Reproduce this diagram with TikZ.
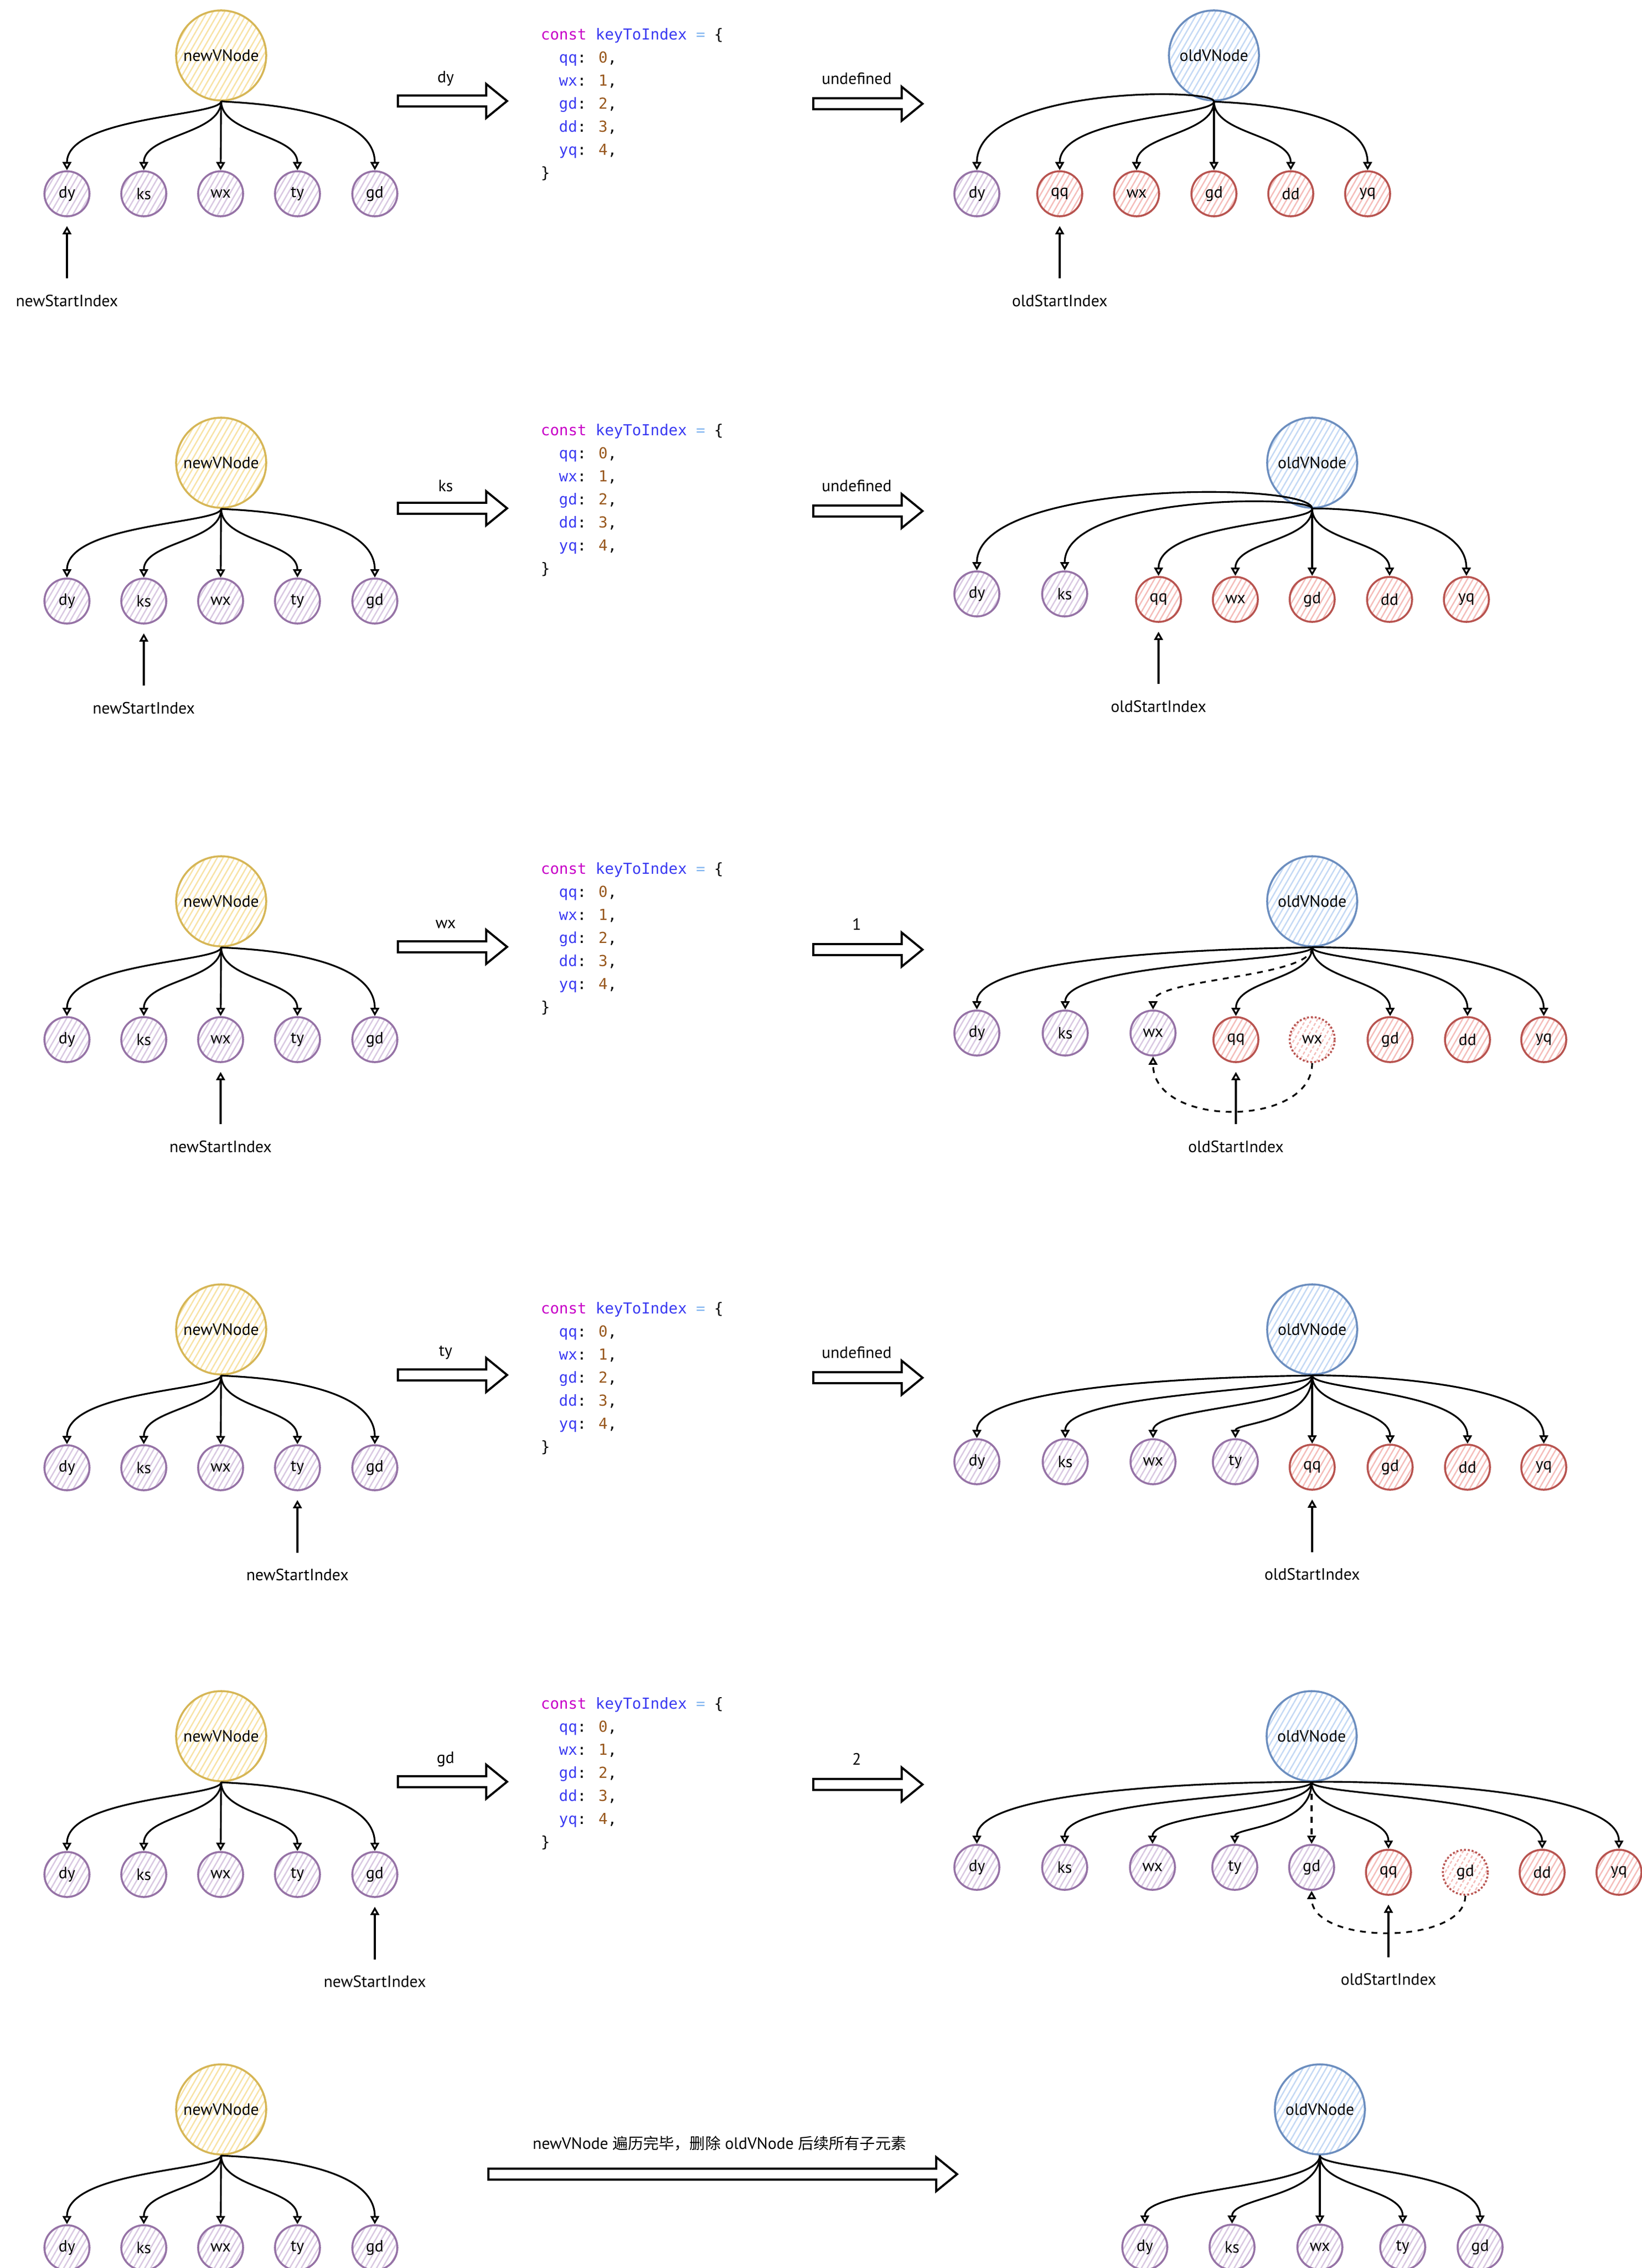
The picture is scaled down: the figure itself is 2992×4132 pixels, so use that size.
\documentclass[tikz,border=0pt]{standalone}
\usepackage{fontspec}
\setmainfont{PT Sans}
\newfontfamily\codefont{DejaVu Sans Mono}
\newfontfamily\cjkfont{Noto Sans CJK SC}
\usetikzlibrary{arrows.meta,patterns.meta,calc}
\definecolor{purS}{HTML}{9673A6}
\definecolor{purH}{HTML}{D9C8E2}
\definecolor{redS}{HTML}{B85450}
\definecolor{redH}{HTML}{F5BDBA}
\definecolor{bluS}{HTML}{6C8EBF}
\definecolor{bluH}{HTML}{C4D9F5}
\definecolor{yelS}{HTML}{D6B656}
\definecolor{yelH}{HTML}{F8E3A6}
\definecolor{ckw}{HTML}{C800C8}
\definecolor{cid}{HTML}{3A3AF2}
\definecolor{ceq}{HTML}{80B4F0}
\definecolor{cnum}{HTML}{98571B}

\newcommand\tedge[4][]{%
  \coordinate (tmpc) at ($(#2.center)+(0,#4)$);
  \draw[tlink,#1] (#2.south) .. controls (#2.south |- tmpc) and (#3.north |- tmpc) .. (#3.north);}

\newcommand\lefttree[2]{%
  \node[yroot] (#1r) at (403,#2) {newVNode};
  \node[pk] (#1a) at (122,#2+252) {dy};
  \node[pk] (#1b) at (262,#2+252) {ks};
  \node[pk] (#1c) at (402,#2+252) {wx};
  \node[pk] (#1d) at (542,#2+252) {ty};
  \node[pk] (#1e) at (683,#2+252) {gd};
  \tedge{#1r}{#1a}{111}
  \tedge{#1r}{#1b}{144}
  \draw[tlink] (#1r.south) -- (#1c.north);
  \tedge{#1r}{#1d}{144}
  \tedge{#1r}{#1e}{86}}

\newcommand\codeblock[2]{%
  \node[codeln] (#1k0) at (985,#2+10) {\textcolor{ckw}{const} \textcolor{cid}{keyToIndex} \textcolor{ceq}{=} \{};
  \node[codeln] (#1k1) at (1018,#2+52) {\textcolor{cid}{qq}: \textcolor{cnum}{0},};
  \node[codeln] (#1k2) at (1018,#2+94) {\textcolor{cid}{wx}: \textcolor{cnum}{1},};
  \node[codeln] (#1k3) at (1018,#2+136) {\textcolor{cid}{gd}: \textcolor{cnum}{2},};
  \node[codeln] (#1k4) at (1018,#2+178) {\textcolor{cid}{dd}: \textcolor{cnum}{3},};
  \node[codeln] (#1k5) at (1018,#2+220) {\textcolor{cid}{yq}: \textcolor{cnum}{4},};
  \node[codeln] (#1k6) at (985,#2+262) {\}};}

\newcommand\bigarrow[3]{%
  \draw[bigarr] (#1,#3-10) -- (#2-38,#3-10) -- (#2-38,#3-31) -- (#2,#3) -- (#2-38,#3+31) -- (#2-38,#3+10) -- (#1,#3+10) -- cycle;}

\newcommand\rowarrows[4]{%
  \bigarrow{725}{924}{#1+83}
  \node[lbl] (#4la) at (812,#1+42) {#2};
  \bigarrow{1482}{1681}{#1+88}
  \node[lbl] (#4ra) at (1561,#1+42) {#3};}

\newcommand\ptrto[3]{%
  \node[lbl] (#2) at ($(#1.center)+(0,195)$) {#3};
  \draw[ptr] (#2.north) -- (#1.south);}

\begin{document}
\begin{tikzpicture}[x=0.01cm,y=-0.01cm,
  lbl/.style={inner sep=0pt, font=\fontsize{8.5}{10}\selectfont},
  rootn/.style={circle, minimum size=1.64cm, inner sep=0pt, line width=1pt, font=\fontsize{8.5}{10}\selectfont},
  yroot/.style={rootn, draw=yelS, pattern={Lines[angle=60,distance=2.6pt,line width=0.7pt]}, pattern color=yelH},
  broot/.style={rootn, draw=bluS, pattern={Lines[angle=60,distance=2.6pt,line width=0.7pt]}, pattern color=bluH},
  kid/.style={circle, minimum size=0.82cm, inner sep=0pt, line width=1pt, font=\fontsize{8.5}{10}\selectfont},
  pk/.style={kid, draw=purS, pattern={Lines[angle=60,distance=2.6pt,line width=0.7pt]}, pattern color=purH},
  rk/.style={kid, draw=redS, pattern={Lines[angle=60,distance=2.6pt,line width=0.7pt]}, pattern color=redH},
  rkd/.style={rk, densely dotted},
  tlink/.style={line width=0.9pt, -{Triangle[open,length=0.15cm,width=0.16cm]}},
  ptr/.style={line width=0.9pt, -{Triangle[open,length=0.15cm,width=0.16cm]}, shorten <=0.29cm, shorten >=0.16cm},
  bigarr/.style={draw, fill=white, line width=1.1pt, line join=miter},
  codeln/.style={anchor=base west, inner sep=0pt, font=\codefont\fontsize{7.85}{9}\selectfont}]
\useasboundingbox (0,0) rectangle (2992,4132);
\clip (0,0) rectangle (2992,4132);
\fill[white] (0,0) rectangle (2992,4132);

% ---------------- Row 1 ----------------
\lefttree{La}{101}
\ptrto{Laa}{La-ns}{newStartIndex}
\codeblock{Ka}{62}
\rowarrows{101}{dy}{undefined}{Ra}
\node[broot] (Ar) at (2212,101) {oldVNode};
\node[pk] (Aa) at (1780,353) {dy};
\node[rk] (Ab) at (1931,353) {qq};
\node[rk] (Ac) at (2071,353) {wx};
\node[rk] (Ad) at (2212,353) {gd};
\node[rk] (Ae) at (2352,353) {dd};
\node[rk] (Af) at (2492,353) {yq};
\tedge{Ar}{Aa}{58}
\tedge{Ar}{Ab}{111}
\tedge{Ar}{Ac}{144}
\draw[tlink] (Ar.south) -- (Ad.north);
\tedge{Ar}{Ae}{144}
\tedge{Ar}{Af}{86}
\ptrto{Ab}{A-os}{oldStartIndex}

% ---------------- Row 2 ----------------
\lefttree{Lb}{843}
\ptrto{Lbb}{Lb-ns}{newStartIndex}
\codeblock{Kb}{783}
\rowarrows{843}{ks}{undefined}{Rb}
\node[broot] (Br) at (2391,843) {oldVNode};
\node[pk] (Ba) at (1780,1082) {dy};
\node[pk] (Bb) at (1940,1082) {ks};
\node[rk] (Bc) at (2111,1092) {qq};
\node[rk] (Bd) at (2251,1092) {wx};
\node[rk] (Be) at (2391,1092) {gd};
\node[rk] (Bf) at (2532,1092) {dd};
\node[rk] (Bg) at (2672,1092) {yq};
\tedge{Br}{Ba}{33}
\tedge{Br}{Bb}{58}
\tedge{Br}{Bc}{110}
\tedge{Br}{Bd}{143}
\draw[tlink] (Br.south) -- (Be.north);
\tedge{Br}{Bf}{143}
\tedge{Br}{Bg}{82}
\ptrto{Bc}{B-os}{oldStartIndex}

% ---------------- Row 3 ----------------
\lefttree{Lc}{1642}
\ptrto{Lcc}{Lc-ns}{newStartIndex}
\codeblock{Kc}{1582}
\rowarrows{1642}{wx}{1}{Rc}
\node[broot] (Cr) at (2391,1642) {oldVNode};
\node[pk] (Ca) at (1780,1882) {dy};
\node[pk] (Cb) at (1941,1882) {ks};
\node[pk] (Cc) at (2101,1882) {wx};
\node[rk] (Cd) at (2252,1894) {qq};
\node[rkd] (Ce) at (2391,1894) {wx};
\node[rk] (Cf) at (2533,1894) {gd};
\node[rk] (Cg) at (2674,1894) {dd};
\node[rk] (Ch) at (2813,1894) {yq};
\tedge{Cr}{Ca}{85}
\tedge{Cr}{Cb}{110}
\tedge[dashed]{Cr}{Cc}{140}
\tedge{Cr}{Cd}{143}
\tedge{Cr}{Cf}{143}
\tedge{Cr}{Cg}{108}
\tedge{Cr}{Ch}{83}
\draw[tlink,dashed] (Ce.south) .. controls (Ce.south |- 0,2055) and (Cc.south |- 0,2055) .. (Cc.south);
\ptrto{Cd}{C-os}{oldStartIndex}

% ---------------- Row 4 ----------------
\lefttree{Ld}{2422}
\ptrto{Ldd}{Ld-ns}{newStartIndex}
\codeblock{Kd}{2383}
\rowarrows{2422}{ty}{undefined}{Rd}
\node[broot] (Dr) at (2391,2422) {oldVNode};
\node[pk] (Da) at (1780,2663) {dy};
\node[pk] (Db) at (1941,2663) {ks};
\node[pk] (Dc) at (2101,2663) {wx};
\node[pk] (Dd) at (2251,2663) {ty};
\node[rk] (De) at (2391,2673) {qq};
\node[rk] (Df) at (2533,2673) {gd};
\node[rk] (Dg) at (2674,2673) {dd};
\node[rk] (Dh) at (2813,2673) {yq};
\tedge{Dr}{Da}{85}
\tedge{Dr}{Db}{113}
\tedge{Dr}{Dc}{141}
\tedge{Dr}{Dd}{170}
\draw[tlink] (Dr.south) -- (De.north);
\tedge{Dr}{Df}{144}
\tedge{Dr}{Dg}{111}
\tedge{Dr}{Dh}{83}
\ptrto{De}{D-os}{oldStartIndex}

% ---------------- Row 5 ----------------
\lefttree{Le}{3163}
\ptrto{Lee}{Le-ns}{newStartIndex}
\codeblock{Ke}{3103}
\rowarrows{3163}{gd}{2}{Re}
\node[broot] (Er) at (2390,3163) {oldVNode};
\node[pk] (Ea) at (1780,3402) {dy};
\node[pk] (Eb) at (1940,3402) {ks};
\node[pk] (Ec) at (2100,3402) {wx};
\node[pk] (Ed) at (2250,3402) {ty};
\node[pk] (Ee) at (2390,3402) {gd};
\node[rk] (Ef) at (2530,3411) {qq};
\node[rkd] (Eg) at (2670,3411) {gd};
\node[rk] (Eh) at (2810,3411) {dd};
\node[rk] (Ei) at (2950,3411) {yq};
\tedge{Er}{Ea}{82}
\tedge{Er}{Eb}{110}
\tedge{Er}{Ec}{138}
\tedge{Er}{Ed}{166}
\draw[tlink,dashed] (Er.south) -- (Ee.north);
\tedge{Er}{Ef}{142}
\tedge{Er}{Eh}{109}
\tedge{Er}{Ei}{81}
\draw[tlink,dashed] (Eg.south) .. controls (Eg.south |- 0,3544) and (Ee.south |- 0,3544) .. (Ee.south);
\ptrto{Ef}{E-os}{oldStartIndex}

% ---------------- Row 6 ----------------
\lefttree{Lf}{3843}
\bigarrow{890}{1744}{3961}
\node[lbl] (Rf-la) at (1311,3905) {newVNode {\cjkfont\fontsize{8}{10}\selectfont 遍历完毕，删除} oldVNode {\cjkfont\fontsize{8}{10}\selectfont 后续所有子元素}};
\node[broot] (Fr) at (2405,3843) {oldVNode};
\node[pk] (Fa) at (2086,4094) {dy};
\node[pk] (Fb) at (2245,4094) {ks};
\node[pk] (Fc) at (2405,4094) {wx};
\node[pk] (Fd) at (2556,4094) {ty};
\node[pk] (Fe) at (2697,4094) {gd};
\tedge{Fr}{Fa}{143}
\tedge{Fr}{Fb}{160}
\draw[tlink] (Fr.south) -- (Fc.north);
\tedge{Fr}{Fd}{143}
\tedge{Fr}{Fe}{110}
\end{tikzpicture}
\end{document}
